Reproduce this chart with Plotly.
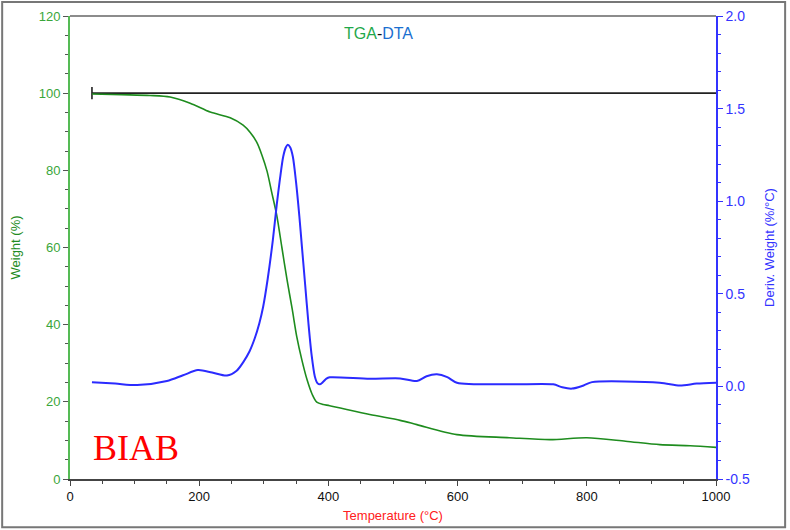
import plotly.graph_objects as go

# TGA weight curve (%)
tga_temp = [34, 80, 124, 155, 186, 217, 248, 268, 279, 289, 297, 305, 312, 320, 328, 336, 344, 351, 359,
            367, 375, 382, 392, 402, 464, 511, 537, 599, 680, 743, 800, 860, 913, 960, 1000]
tga_weight = [99.8, 99.6, 99.4, 99.0, 97.4, 95.1, 93.6, 91.7, 89.8, 87.3, 84.0, 79.8, 74.5, 68.4, 60.0,
              51.6, 44.0, 36.9, 30.8, 25.7, 21.9, 19.9, 19.3, 19.0, 16.7, 15.2, 14.1, 11.5, 10.7, 10.2,
              10.7, 9.8, 8.9, 8.6, 8.2]

# Derivative weight curve (%/°C)
dta_temp = [34, 70, 104, 150, 175, 198, 220, 243, 258, 268, 278, 286, 293, 299, 306, 314, 320, 325, 330,
            334, 337, 341, 345, 350, 355, 359, 364, 369, 374, 379, 383, 387, 392, 397, 402, 464, 511, 537,
            552, 568, 584, 599, 681, 748, 762, 777, 795, 808, 913, 944, 970, 1000]
dta_deriv = [0.023, 0.015, 0.007, 0.029, 0.06, 0.088, 0.075, 0.059, 0.085, 0.13, 0.19, 0.26, 0.34, 0.43,
             0.58, 0.79, 0.98, 1.12, 1.24, 1.29, 1.305, 1.29, 1.24, 1.1, 0.92, 0.755, 0.55, 0.345, 0.17,
             0.054, 0.018, 0.011, 0.025, 0.042, 0.049, 0.041, 0.043, 0.029, 0.055, 0.065, 0.05, 0.02,
             0.011, 0.011, -0.005, -0.012, 0.005, 0.023, 0.02, 0.005, 0.015, 0.02]

# Reference 100 % baseline
ref_temp = [34, 34, None, 34, 1000]
ref_weight = [98.4, 101.6, None, 100, 100]

left_tickvals = [0, 20, 40, 60, 80, 100, 120]
right_tickvals = [-0.5, 0.0, 0.5, 1.0, 1.5, 2.0]
right_ticktext = ["-0.5", "0.0", "0.5", "1.0", "1.5", "2.0"]
x_tickvals = [0, 200, 400, 600, 800, 1000]

GREEN_TXT = "#3aa63a"
BLUE_TXT = "#3333ff"

fig = go.Figure()
fig.add_trace(go.Scatter(x=ref_temp, y=ref_weight, mode="lines",
                         line=dict(color="#222222", width=1.6), yaxis="y", showlegend=False))
fig.add_trace(go.Scatter(x=tga_temp, y=tga_weight, mode="lines",
                         line=dict(color="#1e8c1e", width=1.6, shape="spline", smoothing=0.8),
                         yaxis="y", showlegend=False))
fig.add_trace(go.Scatter(x=dta_temp, y=dta_deriv, mode="lines",
                         line=dict(color="#2b2bff", width=2, shape="spline", smoothing=0.8),
                         yaxis="y2", showlegend=False))

fig.update_layout(
    width=790, height=530,
    margin=dict(l=70, r=74, t=16, b=51),
    paper_bgcolor="white", plot_bgcolor="white",
    font=dict(family="Liberation Sans, Arial, sans-serif", size=13),
    xaxis=dict(range=[0, 1000], tickvals=x_tickvals, showgrid=False, zeroline=False, automargin=False,
               showline=True, linecolor="#444444", linewidth=1.5, mirror=False,
               ticks="outside", ticklen=5, tickcolor="#444444",
               minor=dict(dtick=50, ticks="outside", ticklen=3, tickcolor="#444444"),
               tickfont=dict(color="#111111", size=13),
               title=dict(text="Temperature (°C)", font=dict(color="#ff2020", size=13), standoff=8)),
    yaxis=dict(range=[0, 120], tickvals=left_tickvals, showgrid=False, zeroline=False, automargin=False,
               showline=True, linecolor="#55bb55", linewidth=2,
               ticks="outside", ticklen=5, tickcolor="#555555",
               minor=dict(dtick=5, ticks="outside", ticklen=3, tickcolor="#555555"),
               tickfont=dict(color=GREEN_TXT, size=13),
               title=dict(text="Weight (%)", font=dict(color="#228b22", size=13), standoff=15)),
    yaxis2=dict(range=[-0.5, 2.0], tickvals=right_tickvals, ticktext=right_ticktext, automargin=False,
                overlaying="y", side="right", showgrid=False, zeroline=False,
                showline=True, linecolor="#3333ff", linewidth=1.5,
                ticks="outside", ticklen=5, tickcolor="#3333ff",
                minor=dict(dtick=0.1, ticks="outside", ticklen=3, tickcolor="#3333ff"),
                tickfont=dict(color=BLUE_TXT, size=14, family="Liberation Sans, Arial, sans-serif"),
                title=dict(text="Deriv. Weight (%/°C)", font=dict(color=BLUE_TXT, size=13), standoff=16)),
)

# top border of plot area
fig.add_shape(type="line", xref="paper", yref="paper", x0=0, x1=1, y0=1, y1=1,
              line=dict(color="#666666", width=1.5))
# outer frame
fig.add_shape(type="rect", xref="paper", yref="paper", x0=-0.105, x1=1.107, y0=-0.104, y1=1.030,
              line=dict(color="#777777", width=2))

fig.add_annotation(xref="paper", yref="paper", x=0.477, y=0.963, yanchor="middle", showarrow=False,
                   text="<span style='color:#1fa84a'>TGA</span><span style='color:#111'>-</span>"
                        "<span style='color:#1a6fd0'>DTA</span>",
                   font=dict(size=16, family="Liberation Sans, Arial, sans-serif"))
fig.add_annotation(xref="paper", yref="paper", x=0.033, y=0.068, xanchor="left", yanchor="middle",
                   showarrow=False, text="BIAB",
                   font=dict(size=36, color="#ff0000", family="Liberation Serif, Times New Roman, serif"))

fig.write_html("out.html", config={"displayModeBar": False},
               post_script="document.body.style.margin='0px';document.body.style.padding='0px';")
